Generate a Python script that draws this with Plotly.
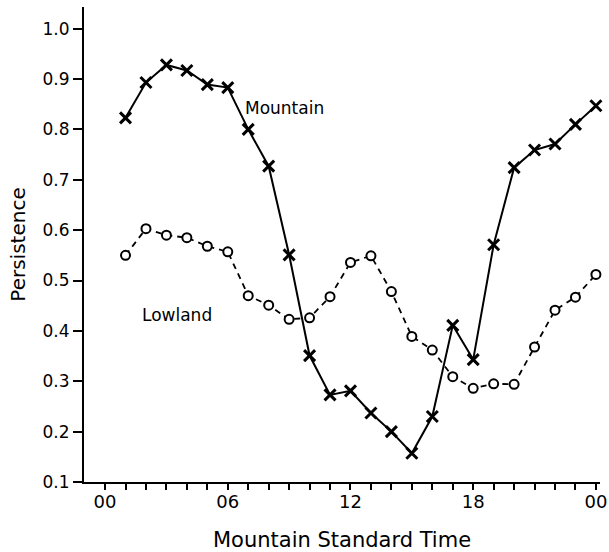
import plotly.graph_objects as go

hours = list(range(1, 25))
mountain = [0.823, 0.893, 0.928, 0.917, 0.889, 0.883, 0.800, 0.727, 0.551, 0.351,
            0.273, 0.281, 0.237, 0.200, 0.157, 0.230, 0.411, 0.343, 0.571, 0.724,
            0.759, 0.771, 0.810, 0.847]
lowland = [0.550, 0.603, 0.590, 0.585, 0.568, 0.557, 0.470, 0.451, 0.423, 0.426,
           0.468, 0.536, 0.549, 0.478, 0.389, 0.362, 0.309, 0.286, 0.295, 0.294,
           0.368, 0.441, 0.467, 0.512]
x_tickvals = list(range(0, 25))
x_ticktext = ["00" if h in (0, 24) else ("06" if h == 6 else ("12" if h == 12 else ("18" if h == 18 else ""))) for h in x_tickvals]
y_tickvals = [0.1, 0.2, 0.3, 0.4, 0.5, 0.6, 0.7, 0.8, 0.9, 1.0]
y_ticktext = ["0.1", "0.2", "0.3", "0.4", "0.5", "0.6", "0.7", "0.8", "0.9", "1.0"]

font = "DejaVu Sans"

fig = go.Figure()
fig.add_trace(go.Scatter(
    x=hours, y=lowland, mode="lines+markers", name="Lowland",
    line=dict(color="black", width=1.8, dash="6px,5px"),
    marker=dict(symbol="circle", size=9, color="white", line=dict(color="black", width=2)),
    cliponaxis=False,
))
fig.add_trace(go.Scatter(
    x=hours, y=mountain, mode="lines+markers", name="Mountain",
    line=dict(color="black", width=2),
    marker=dict(symbol="x-thin", size=11, color="black", line=dict(color="black", width=3)),
    cliponaxis=False,
))

fig.add_annotation(x=8.75, y=0.843, text="Mountain", showarrow=False,
                   font=dict(family=font, size=17, color="black"))
fig.add_annotation(x=3.5, y=0.432, text="Lowland", showarrow=False,
                   font=dict(family=font, size=17, color="black"))

fig.update_layout(
    width=609, height=552,
    margin=dict(l=84, r=9, t=7, b=70),
    paper_bgcolor="white", plot_bgcolor="white",
    showlegend=False,
    font=dict(family=font, color="black"),
)
fig.update_xaxes(
    range=[-1.03, 24.2], tickmode="array", tickvals=x_tickvals, ticktext=x_ticktext,
    ticks="outside", ticklen=6, tickwidth=1.5, tickcolor="black",
    showline=True, linecolor="black", linewidth=2, showgrid=False, zeroline=False,
    tickfont=dict(family=font, size=18, color="black"), automargin=False,
    ticklabelstandoff=-4,
    title=dict(text="Mountain Standard Time", font=dict(family=font, size=21, color="black"), standoff=22),
)
fig.update_yaxes(
    range=[0.1, 1.043], tickmode="array", tickvals=y_tickvals, ticktext=y_ticktext,
    ticks="outside", ticklen=9, tickwidth=1.5, tickcolor="black",
    showline=True, linecolor="black", linewidth=2, showgrid=False, zeroline=False,
    tickfont=dict(family=font, size=17, color="black"), automargin=False,
    title=dict(text="Persistence", font=dict(family=font, size=20, color="black"), standoff=12),
)

fig.write_html("out.html", config={"displayModeBar": False},
               post_script="document.body.style.margin='0';")
